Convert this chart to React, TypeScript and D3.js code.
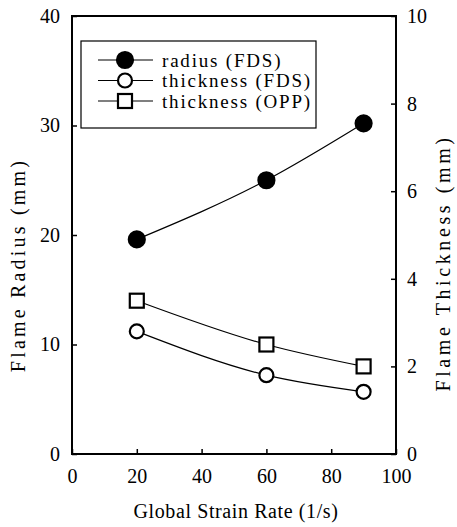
import React, { useEffect, useRef } from "react";
import * as d3 from "d3";

// strain rate (1/s)
const strainRates = [20, 60, 90];
// flame radius from FDS (mm), left axis
const radiusFDS = [19.6, 25.0, 30.2];
// flame thickness (mm), right axis
const thicknessFDS = [2.8, 1.8, 1.42];
const thicknessOPP = [3.5, 2.5, 2.0];

const xTicks = [0, 20, 40, 60, 80, 100];
const leftTicks = [0, 10, 20, 30, 40];
const rightTicks = [0, 2, 4, 6, 8, 10];
const legendLabels = ["radius (FDS)", "thickness (FDS)", "thickness (OPP)"];

const App = () => {
  const svgRef = useRef<SVGSVGElement>(null);

  useEffect(() => {
    const width = 457;
    const height = 527;
    const margin = { top: 16, right: 61, bottom: 73, left: 72 };
    const innerW = width - margin.left - margin.right;
    const innerH = height - margin.top - margin.bottom;
    const font = "'Liberation Serif', 'Times New Roman', serif";

    const svg = d3.select(svgRef.current);
    svg.selectAll("*").remove();
    svg.attr("width", width).attr("height", height);

    const g = svg
      .append("g")
      .attr("transform", `translate(${margin.left},${margin.top})`);

    const x = d3.scaleLinear().domain([0, 100]).range([0, innerW]);
    const yL = d3.scaleLinear().domain([0, 40]).range([innerH, 0]);
    const yR = d3.scaleLinear().domain([0, 10]).range([innerH, 0]);

    // frame
    g.append("rect")
      .attr("width", innerW)
      .attr("height", innerH)
      .attr("fill", "none")
      .attr("stroke", "#000")
      .attr("stroke-width", 2);

    const styleAxis = (sel) => {
      sel.select(".domain").remove();
      sel.selectAll("line").attr("stroke", "#000").attr("stroke-width", 1.5);
      sel
        .selectAll("text")
        .attr("font-family", font)
        .attr("font-size", 20)
        .attr("fill", "#000");
    };

    g.append("g")
      .attr("transform", `translate(0,${innerH})`)
      .call(
        d3.axisBottom(x).tickValues(xTicks).tickSize(-5).tickPadding(15)
      )
      .call(styleAxis);

    g.append("g")
      .call(d3.axisLeft(yL).tickValues(leftTicks).tickSize(-5).tickPadding(12))
      .call(styleAxis);

    g.append("g")
      .attr("transform", `translate(${innerW},0)`)
      .call(
        d3.axisRight(yR).tickValues(rightTicks).tickSize(-5).tickPadding(11)
      )
      .call(styleAxis);

    // axis titles
    svg
      .append("text")
      .attr("x", margin.left + innerW / 2 + 2)
      .attr("y", 518)
      .attr("text-anchor", "middle")
      .attr("font-family", font)
      .attr("font-size", 20)
      .attr("letter-spacing", 0.6)
      .text("Global Strain Rate (1/s)");

    svg
      .append("text")
      .attr("transform", `translate(25,${margin.top + 249}) rotate(-90)`)
      .attr("text-anchor", "middle")
      .attr("font-family", font)
      .attr("font-size", 20)
      .attr("letter-spacing", 3.2)
      .text("Flame Radius (mm)");

    svg
      .append("text")
      .attr("transform", `translate(450,${margin.top + 247}) rotate(-90)`)
      .attr("text-anchor", "middle")
      .attr("font-family", font)
      .attr("font-size", 20)
      .attr("letter-spacing", 3.6)
      .text("Flame Thickness (mm)");

    const line = d3.line<[number, number]>().curve(d3.curveMonotoneX);

    const series = [
      { values: radiusFDS, y: yL, marker: "filled" },
      { values: thicknessFDS, y: yR, marker: "circle" },
      { values: thicknessOPP, y: yR, marker: "square" },
    ];

    const drawMarker = (sel, type, cx, cy) => {
      if (type === "square") {
        sel
          .append("rect")
          .attr("x", cx - 7)
          .attr("y", cy - 7)
          .attr("width", 14)
          .attr("height", 14)
          .attr("fill", "#fff")
          .attr("stroke", "#000")
          .attr("stroke-width", 2.2);
      } else {
        sel
          .append("circle")
          .attr("cx", cx)
          .attr("cy", cy)
          .attr("r", type === "filled" ? 8 : 7)
          .attr("fill", type === "filled" ? "#000" : "#fff")
          .attr("stroke", "#000")
          .attr("stroke-width", 2.2);
      }
    };

    series.forEach((s) => {
      const pts: [number, number][] = strainRates.map((r, i) => [
        x(r),
        s.y(s.values[i]),
      ]);
      g.append("path")
        .attr("d", line(pts))
        .attr("fill", "none")
        .attr("stroke", "#000")
        .attr("stroke-width", 1.2);
    });
    series.forEach((s) => {
      strainRates.forEach((r, i) => {
        drawMarker(g, s.marker, x(r), s.y(s.values[i]));
      });
    });

    // legend
    const lg = g.append("g").attr("transform", "translate(9,25)");
    lg.append("rect")
      .attr("width", 235)
      .attr("height", 87)
      .attr("fill", "#fff")
      .attr("stroke", "#000")
      .attr("stroke-width", 1.2);
    legendLabels.forEach((label, i) => {
      const cy = 19 + i * 20.5;
      lg.append("line")
        .attr("x1", 17)
        .attr("x2", 72)
        .attr("y1", cy)
        .attr("y2", cy)
        .attr("stroke", "#000")
        .attr("stroke-width", 1.2);
      drawMarker(lg, series[i].marker, 44, cy);
      lg.append("text")
        .attr("x", 81)
        .attr("y", cy)
        .attr("dy", "0.35em")
        .attr("font-family", font)
        .attr("font-size", 19)
        .attr("letter-spacing", 1.8)
        .text(label);
    });
  }, []);

  return (
    <svg
      ref={svgRef}
      style={{ display: "block", position: "absolute", left: 0, top: 0 }}
    ></svg>
  );
};

export default App;
